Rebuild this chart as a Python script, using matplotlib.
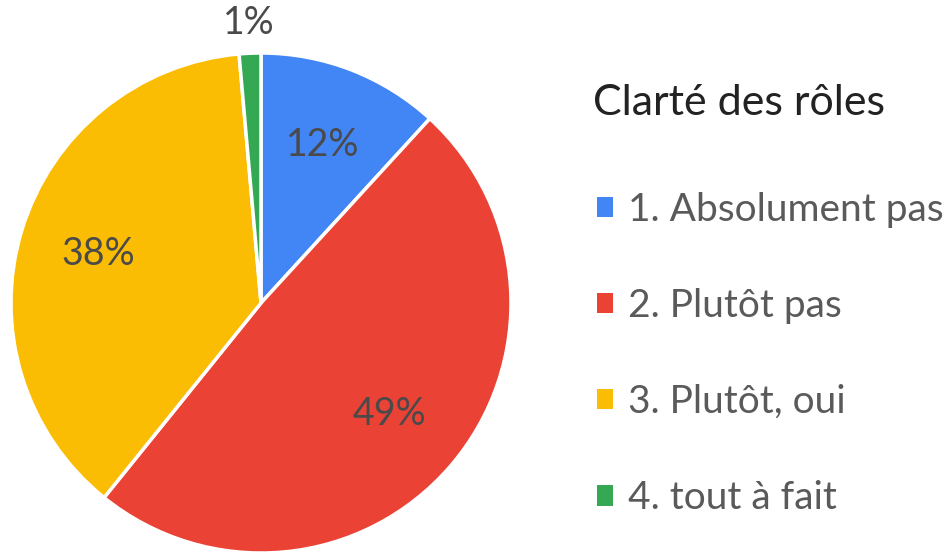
import numpy as np
import matplotlib.pyplot as plt
from matplotlib.patches import Patch

labels = ['1. Absolument pas', '2. Plutôt pas', '3. Plutôt, oui', '4. tout à fait']
values = [11.8, 49.0, 37.8, 1.4]
colors = ['#4285f4', '#ea4335', '#fbbc04', '#34a853']

plt.rcParams['font.family'] = ['Lato', 'DejaVu Sans']

fig = plt.figure(figsize=(9.5, 5.53), dpi=100)
ax = fig.add_axes([11 / 950, 0, 500 / 950, 500 / 553])

wedges, texts, autotexts = ax.pie(values, colors=colors, startangle=90, counterclock=False,
                                  autopct='%1.0f%%', pctdistance=0.68,
                                  wedgeprops=dict(edgecolor='white', linewidth=2.5),
                                  textprops=dict(fontsize=27, color='#4a4a4a'))
ax.set_xlim(-1, 1)
ax.set_ylim(-1, 1)
ax.set_aspect('equal')

# small slice label goes outside
for w, t in zip(wedges, autotexts):
    if w.theta2 - w.theta1 < 10:
        a = np.deg2rad((w.theta1 + w.theta2) / 2)
        t.set_position((1.12 * np.cos(a), 1.12 * np.sin(a)))

fig.text(593 / 950, 1 - 103 / 553, 'Clarté des rôles', fontsize=31, color='#222222', va='center')

handles = [Patch(facecolor=c, edgecolor='none') for c in colors]
leg = fig.legend(handles, labels, loc='center left', bbox_to_anchor=(597 / 950, 1 - 354 / 553),
                 frameon=False, fontsize=28, labelcolor='#5a5a5a',
                 handlelength=0.42, handleheight=0.42, handletextpad=0.38,
                 labelspacing=1.55, borderpad=0, borderaxespad=0)

plt.savefig('out.png', dpi=100)
